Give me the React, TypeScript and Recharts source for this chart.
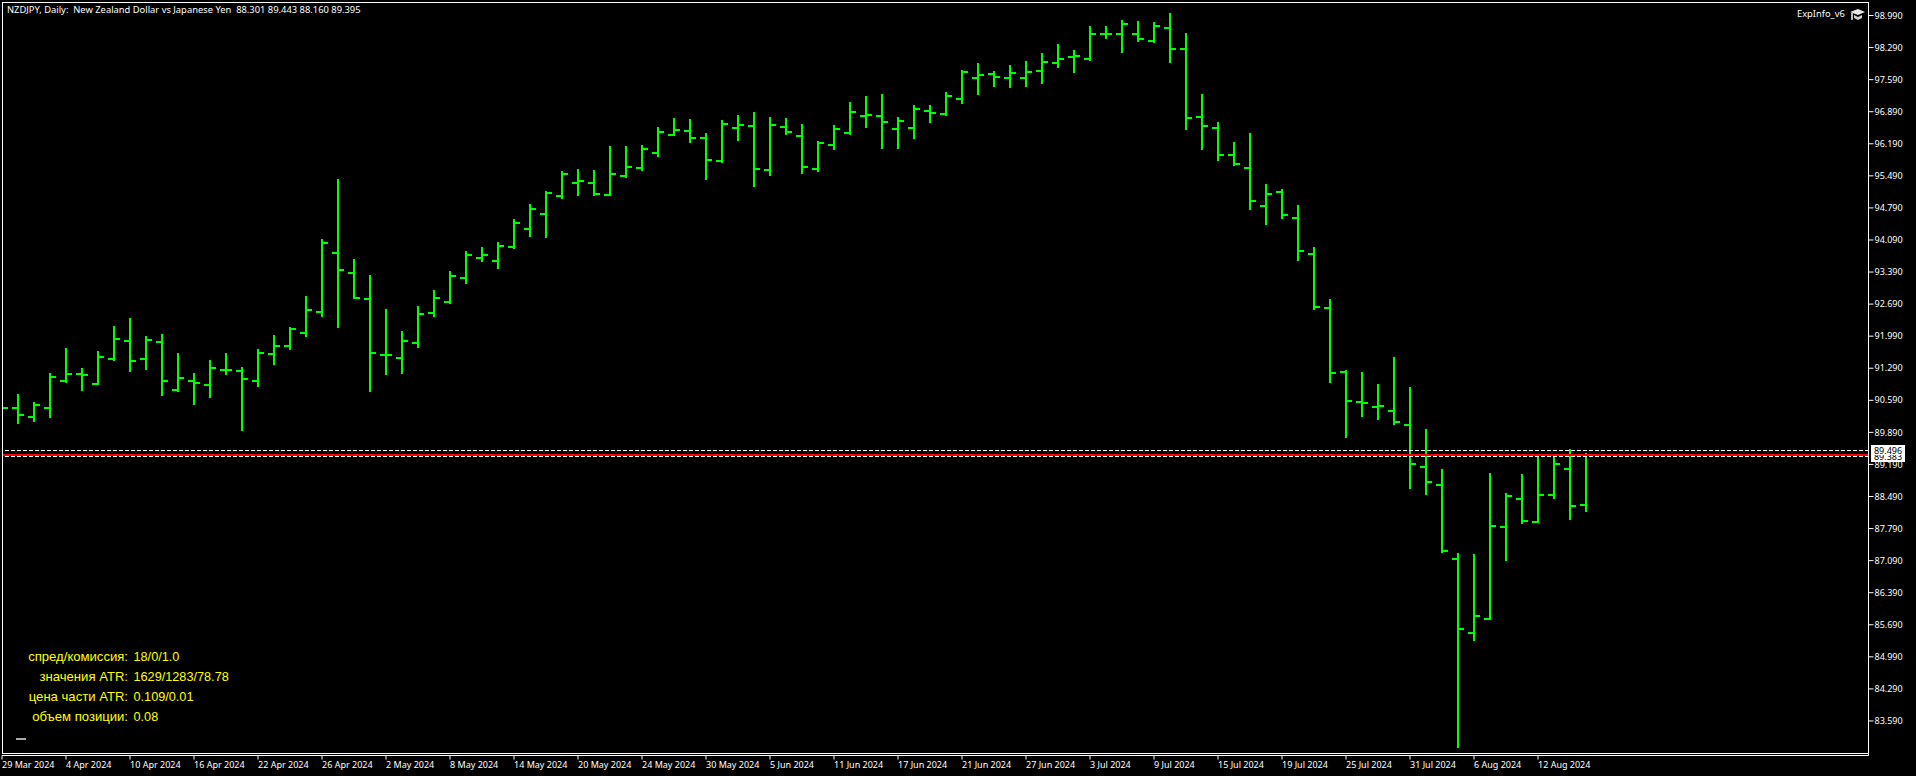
import React from "react";
import { Bar, ComposedChart, ReferenceLine, XAxis, YAxis } from "recharts";

const pairTitle = "NZDJPY, Daily:  New Zealand Dollar vs Japanese Yen  88.301 89.443 88.160 89.395";

const highs = [
  90.53, 90.73, 90.55, 91.19, 91.73, 91.29, 91.67, 92.21, 92.39, 91.99,
  92.04, 91.62, 91.19, 91.47, 91.62, 91.32, 91.71, 92.01, 92.19, 92.87,
  94.11, 95.42, 93.67, 93.33, 92.58, 92.10, 92.65, 92.99, 93.41, 93.85,
  93.94, 94.04, 94.55, 94.88, 95.16, 95.60, 95.64, 95.62, 96.14, 96.14,
  96.16, 96.56, 96.75, 96.73, 96.43, 96.71, 96.82, 96.88, 96.77, 96.75,
  96.62, 96.25, 96.60, 97.10, 97.23, 97.28, 96.77, 97.04, 97.04, 97.32,
  97.80, 97.95, 97.78, 97.91, 97.99, 98.17, 98.37, 98.24, 98.76, 98.76,
  98.89, 98.87, 98.85, 99.04, 98.61, 97.28, 96.67, 96.23, 96.43, 95.31,
  95.20, 94.85, 93.94, 92.80, 91.25, 91.21, 90.95, 91.53, 90.88, 89.96,
  89.09, 87.26, 87.23, 89.00, 88.57, 88.98, 89.40, 89.42, 89.53, 89.443,
];
const lows = [
  90.27, 90.07, 90.12, 90.20, 90.97, 90.79, 90.92, 91.45, 91.21, 91.25,
  90.68, 90.77, 90.49, 90.64, 91.14, 89.92, 90.88, 91.36, 91.69, 91.97,
  92.41, 92.17, 92.80, 90.77, 91.14, 91.16, 91.73, 92.41, 92.69, 93.13,
  93.61, 93.45, 93.89, 94.15, 94.13, 94.98, 95.05, 95.05, 95.05, 95.44,
  95.60, 95.90, 96.36, 96.21, 95.40, 95.77, 96.25, 95.25, 95.49, 96.38,
  95.53, 95.57, 96.05, 96.38, 96.53, 96.07, 96.07, 96.29, 96.64, 96.80,
  97.06, 97.25, 97.43, 97.41, 97.43, 97.49, 97.84, 97.73, 97.99, 98.48,
  98.17, 98.41, 98.39, 97.95, 96.49, 96.05, 95.81, 95.70, 94.74, 94.42,
  94.55, 93.63, 92.56, 90.97, 89.77, 90.22, 90.16, 90.05, 88.65, 88.52,
  87.26, 83.00, 85.34, 85.79, 87.08, 87.89, 87.91, 88.43, 87.98, 88.16,
];
const opens = [
  90.42, 90.42, 90.22, 90.42, 91.01, 91.16, 90.95, 91.49, 91.89, 91.49,
  91.86, 90.81, 91.01, 90.92, 91.25, 91.23, 91.01, 91.60, 91.77, 92.06,
  92.52, 93.81, 93.37, 92.80, 91.58, 91.51, 91.84, 92.49, 92.73, 93.26,
  93.70, 93.63, 93.94, 94.33, 94.66, 95.05, 95.33, 95.33, 95.07, 95.49,
  95.66, 95.99, 96.38, 96.47, 96.32, 95.81, 96.53, 96.58, 95.62, 96.56,
  96.36, 95.64, 96.16, 96.43, 96.80, 96.80, 96.51, 96.53, 96.91, 96.84,
  97.17, 97.63, 97.71, 97.63, 97.63, 97.78, 97.95, 98.08, 98.04, 98.59,
  98.59, 98.59, 98.43, 98.72, 98.26, 96.77, 96.53, 95.94, 95.66, 94.83,
  95.14, 94.57, 93.78, 92.60, 91.21, 90.55, 90.44, 90.36, 90.05, 89.13,
  88.74, 87.12, 85.51, 85.82, 87.82, 88.43, 87.93, 88.52, 89.09, 88.301,
];
const closes = [
  90.42, 90.27, 90.49, 91.10, 91.16, 91.14, 91.53, 91.93, 91.45, 91.91,
  91.01, 91.08, 90.97, 91.29, 91.25, 91.05, 91.62, 91.77, 92.15, 92.56,
  94.02, 93.43, 92.82, 91.62, 91.58, 91.89, 92.47, 92.82, 93.30, 93.76,
  93.76, 93.96, 94.46, 94.77, 95.11, 95.53, 95.38, 95.09, 95.53, 95.68,
  96.07, 96.45, 96.49, 96.32, 95.84, 96.62, 96.60, 95.64, 96.60, 96.45,
  95.68, 96.21, 96.51, 96.88, 96.82, 96.67, 96.69, 96.95, 96.86, 97.23,
  97.76, 97.69, 97.65, 97.73, 97.76, 97.97, 98.04, 98.11, 98.59, 98.59,
  98.80, 98.48, 98.76, 98.26, 96.75, 96.58, 95.94, 95.75, 94.94, 95.09,
  94.63, 93.85, 92.63, 91.19, 90.57, 90.53, 90.47, 90.12, 89.20, 88.81,
  87.30, 85.60, 85.88, 87.85, 88.50, 87.95, 88.52, 89.20, 88.28, 89.395,
];

const dateLabels = [
  "29 Mar 2024", "4 Apr 2024", "10 Apr 2024", "16 Apr 2024", "22 Apr 2024",
  "26 Apr 2024", "2 May 2024", "8 May 2024", "14 May 2024", "20 May 2024",
  "24 May 2024", "30 May 2024", "5 Jun 2024", "11 Jun 2024", "17 Jun 2024",
  "21 Jun 2024", "27 Jun 2024", "3 Jul 2024", "9 Jul 2024", "15 Jul 2024",
  "19 Jul 2024", "25 Jul 2024", "31 Jul 2024", "6 Aug 2024", "12 Aug 2024",
];
const dateTicks = [
  0, 4, 8, 12, 16, 20, 24, 28, 32, 36, 40, 44, 48, 52, 56, 60, 64, 68, 72, 76,
  80, 84, 88, 92, 96,
];
const priceTicks = [
  98.99, 98.29, 97.59, 96.89, 96.19, 95.49, 94.79, 94.09, 93.39, 92.69, 91.99,
  91.29, 90.59, 89.89, 89.19, 88.49, 87.79, 87.09, 86.39, 85.69, 84.99, 84.29,
  83.59,
];

const askLevel = 89.496;
const bidLevel = 89.395;
const lowerLevel = 89.363;

const infoLabels = ["спред/комиссия:", "значения ATR:", "цена части ATR:", "объем позиции:"];
const infoValues = ["18/0/1.0", "1629/1283/78.78", "0.109/0.01", "0.08"];

const chartData = highs.map((high, i) => ({
  i,
  high,
  low: lows[i],
  open: opens[i],
  close: closes[i],
}));

const GREEN = "#00ff00";
const AXIS_FONT = "'Noto Sans', sans-serif";

// open tick on the left, close tick on the right
const OhlcBar = (props: any) => {
  const { x, y, width, height, payload } = props;
  const cx = x + width / 2;
  const range = payload.high - payload.low;
  const openY = y + ((payload.high - payload.open) / range) * height;
  const closeY = y + ((payload.high - payload.close) / range) * height;
  return (
    <g shapeRendering="crispEdges" fill={GREEN}>
      <rect x={cx - 1} y={y} width={2} height={height} />
      <rect x={cx - 6} y={openY - 1} width={6} height={2} />
      <rect x={cx} y={closeY - 1} width={6} height={2} />
    </g>
  );
};

const DateTick = (props: any) => {
  const { x, y, payload } = props;
  return (
    <text x={x} y={y + 6.5} fill="#fff" fontSize={9} fontFamily={AXIS_FONT} textAnchor="start">
      {dateLabels[dateTicks.indexOf(payload.value)]}
    </text>
  );
};

const overlayText: React.CSSProperties = {
  position: "absolute",
  whiteSpace: "pre",
  fontFamily: AXIS_FONT,
  fontSize: 9,
  lineHeight: "12px",
  color: "#fff",
};

export default function App() {
  return (
    <div style={{ position: "absolute", left: 0, top: 0, width: 1916, height: 776, background: "#000", overflow: "hidden" }}>
      <ComposedChart
        width={1916}
        height={776}
        data={chartData}
        margin={{ top: 2.5, right: 0, bottom: 0, left: 2 }}
        barCategoryGap={0}
      >
        <XAxis
          dataKey="i"
          type="number"
          domain={[0, 116.656]}
          allowDataOverflow
          ticks={dateTicks}
          interval={0}
          height={20.5}
          tickSize={4}
          stroke="#fff"
          tick={<DateTick />}
        />
        <YAxis
          type="number"
          orientation="right"
          domain={[82.836, 99.274]}
          ticks={priceTicks}
          interval={0}
          width={47.5}
          tickSize={5}
          tickMargin={1}
          stroke="#fff"
          tick={{ fill: "#fff", fontSize: 9, fontFamily: AXIS_FONT }}
          tickFormatter={(v: number) => v.toFixed(3)}
        />
        <ReferenceLine y={askLevel} stroke="#fff" strokeDasharray="4 2" shapeRendering="crispEdges" />
        <ReferenceLine y={lowerLevel} stroke="#fff" strokeDasharray="4 2" shapeRendering="crispEdges" />
        <ReferenceLine y={bidLevel} stroke="#ff0000" strokeWidth={2} shapeRendering="crispEdges" />
        <Bar
          dataKey={(d: any) => [d.low, d.high]}
          barSize={14}
          shape={<OhlcBar />}
          isAnimationActive={false}
        />
      </ComposedChart>

      {/* plot frame */}
      <div style={{ position: "absolute", left: 2, top: 2, width: 1867, height: 752, boxSizing: "border-box", border: "1px solid #fff" }} />

      <div style={{ ...overlayText, left: 7, top: 4, fontSize: 9.37 }}>{pairTitle}</div>
      <div style={{ ...overlayText, left: 1797, top: 8, fontSize: 9.3 }}>ExpInfo_v6</div>
      <svg style={{ position: "absolute", left: 1850, top: 8 }} width={16} height={13}>
        <polygon points="0,4 8,1 15,4 8,7" fill="#e6e6e6" />
        <polygon points="4,7 8,9 12,7 12,10 8,12 4,10" fill="#cfcfcf" />
        <rect x={1} y={5} width={2} height={7} fill="#bbb" />
      </svg>

      {infoLabels.map((label, i) => (
        <div key={label} style={{ position: "absolute", right: 1916 - 128, top: 649 + i * 20, font: "13.1px/16px 'Liberation Sans', sans-serif", color: "#ffff00", whiteSpace: "pre" }}>
          {label}
        </div>
      ))}
      {infoValues.map((value, i) => (
        <div key={value} style={{ position: "absolute", left: 133.5, top: 649 + i * 20, font: "12.7px/16px 'Liberation Sans', sans-serif", color: "#ffff00", whiteSpace: "pre" }}>
          {value}
        </div>
      ))}
      <div style={{ position: "absolute", left: 16, top: 738, width: 10, height: 2, background: "#aaa" }} />

      {/* current price labels, the ask one covers the top of the other */}
      <div style={{ ...overlayText, left: 1871, top: 451, width: 34, height: 11, background: "#fff", color: "#000", textAlign: "center" }}>89.383</div>
      <div style={{ ...overlayText, left: 1871, top: 445, width: 34, height: 10, background: "#fff", color: "#000", textAlign: "center", lineHeight: "11px" }}>89.496</div>
    </div>
  );
}
